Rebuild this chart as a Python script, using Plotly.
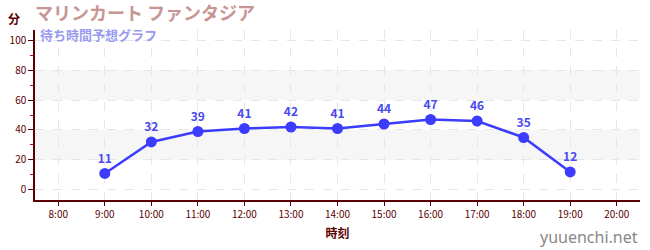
import plotly.graph_objects as go

hours = [9, 10, 11, 12, 13, 14, 15, 16, 17, 18, 19]
waits = [11, 32, 39, 41, 42, 41, 44, 47, 46, 35, 12]
tick_hours = list(range(8, 21))
tick_labels = [f"{h}:00" for h in tick_hours]
y_ticks = [0, 20, 40, 60, 80, 100]

axis_col = "#5a0000"
fig = go.Figure()
for y0, y1 in [(20, 40), (60, 80)]:
    fig.add_shape(type="rect", xref="paper", yref="y", x0=0, x1=1, y0=y0, y1=y1,
                  fillcolor="#f6f6f6", line_width=0, layer="below")

fig.add_trace(go.Scatter(
    x=hours, y=waits, mode="lines+markers+text",
    line=dict(color="#3c3cff", width=2.5),
    marker=dict(color="#3c3cff", size=11),
    text=[f"<b>{v}</b>" for v in waits], textposition="top center",
    textfont=dict(color="#4a4aee", size=12, family="Noto Sans CJK JP"),
    cliponaxis=False, hoverinfo="skip"))

fig.update_layout(
    width=650, height=250, margin=dict(l=31, r=10, t=30, b=50),
    plot_bgcolor="white", paper_bgcolor="white", showlegend=False,
    font=dict(family="Noto Sans CJK JP", color=axis_col),
    xaxis=dict(range=[7.5, 20.5], tickvals=tick_hours, ticktext=tick_labels,
               tickfont=dict(size=10, color=axis_col), showline=True, linecolor=axis_col,
               linewidth=1.5, ticks="outside", ticklen=4, tickcolor=axis_col,
               showgrid=True, gridcolor="#e6e6e6", griddash="dash", zeroline=False,
               title=dict(text="<b>時刻</b>", font=dict(size=12, color=axis_col), standoff=10)),
    yaxis=dict(range=[-6.7, 106.7], tickvals=y_ticks, tickfont=dict(size=10, color=axis_col),
               showline=True, linecolor=axis_col, linewidth=1.5, ticks="outside", ticklen=5,
               tickcolor=axis_col, showgrid=True, gridcolor="#e6e6e6", griddash="dash",
               zeroline=False,
               minor=dict(tickvals=[10, 30, 50, 70, 90], ticks="outside", ticklen=3,
                          tickcolor="#d00000", showgrid=False)),
)
fig.add_annotation(text="<b>分</b>", xref="paper", yref="paper", x=-0.035, y=1.0,
                   xanchor="center", yanchor="middle", yshift=12, showarrow=False,
                   font=dict(size=12, color=axis_col))
fig.add_annotation(text="<b>マリンカート ファンタジア</b>", xref="paper", yref="paper", x=-0.004, y=1.0,
                   xanchor="left", yanchor="middle", yshift=18, showarrow=False,
                   font=dict(size=18, color="#c89595"))
fig.add_annotation(text="<b>待ち時間予想グラフ</b>", xref="paper", yref="paper", x=0.005, y=1.0,
                   xanchor="left", yanchor="middle", yshift=-4, showarrow=False,
                   font=dict(size=13, color="#9a9af0"))
fig.add_annotation(text="yuuenchi.net", xref="paper", yref="paper", x=1.0, y=0, yshift=-50,
                   xanchor="right", yanchor="bottom", showarrow=False,
                   font=dict(size=16, color="#888888", family="Noto Sans"))
fig.write_html("out.html")
